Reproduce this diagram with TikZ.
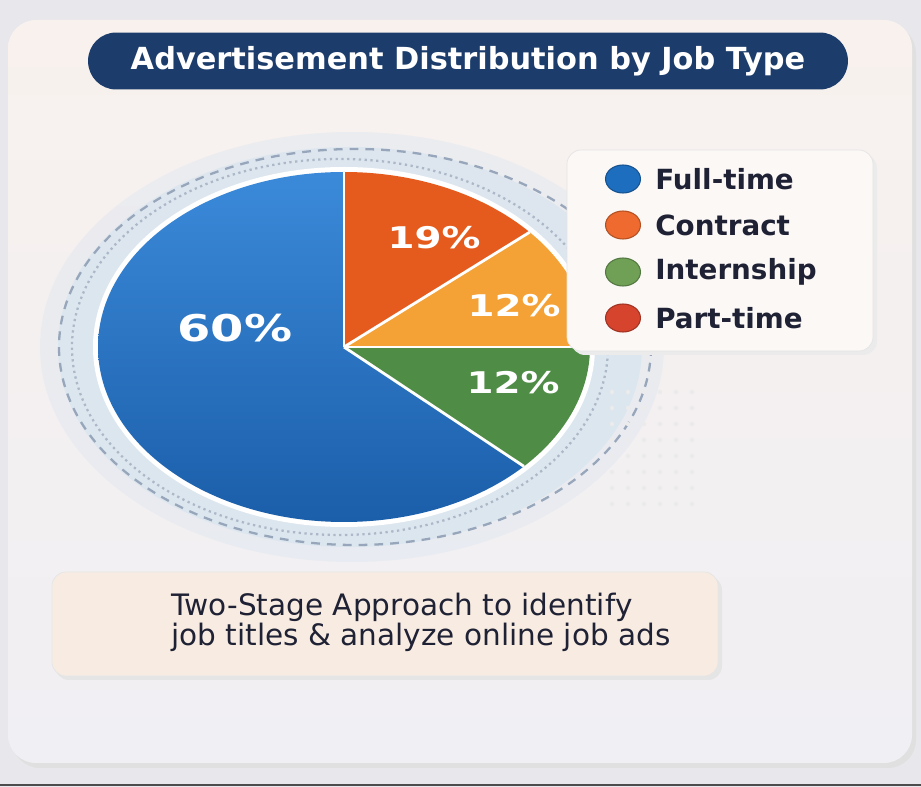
\documentclass[tikz,border=0pt]{standalone}
\usepackage{fontspec}
\setmainfont{DejaVu Sans}
\usetikzlibrary{shapes.geometric}

\definecolor{pagebg}{HTML}{E8E7EB}
\definecolor{cardtop}{HTML}{F8F1EE}
\definecolor{cardbot}{HTML}{F0EFF3}
\definecolor{navy}{HTML}{1C3D6B}
\definecolor{inkdark}{HTML}{1F2134}
\definecolor{fullblue}{HTML}{2574C4}
\definecolor{fullbluelt}{HTML}{3B8ADA}
\definecolor{fullbluedk}{HTML}{1B5EA9}
\definecolor{contractred}{HTML}{E55B1D}
\definecolor{internyellow}{HTML}{F4A236}
\definecolor{interngreen}{HTML}{4F8C45}
\definecolor{ringblue}{HTML}{D2E2EF}
\definecolor{dashgray}{HTML}{97A6BA}
\definecolor{keyblue}{HTML}{1E6EBF}
\definecolor{keyorange}{HTML}{EE6A2E}
\definecolor{keygreen}{HTML}{6FA055}
\definecolor{keyred}{HTML}{D6442E}
\definecolor{notefill}{HTML}{F8ECE2}

\newcommand{\widepct}[1]{\scalebox{1.3}[1]{#1}}

\begin{document}
\begin{tikzpicture}
        [x=0.02cm, y=-0.02cm,
        pct/.style={text=white, font=\bfseries\fontsize{17}{20}\selectfont},
        bigpct/.style={text=white, font=\bfseries\fontsize{21}{24}\selectfont},
        swatch/.style={ellipse, draw=#1!75!black, fill=#1, line width=0.6pt,
                minimum width=0.7cm, minimum height=0.56cm, inner sep=0pt},
        legendtext/.style={anchor=west, text=inkdark, inner sep=0pt,
                font=\bfseries\fontsize{15.8}{18}\selectfont},
        notetext/.style={text=inkdark, font=\fontsize{16.8}{19}\selectfont},
        separator/.style={white, line width=1.6pt}]

        \useasboundingbox (0,0) rectangle (921,787);
        \fill[pagebg] (0,0) rectangle (921,787);

        % card with soft shadow
        \fill[black!12, rounded corners=16pt] (12,25) rectangle (916,768);
        \shade[top color=cardtop, bottom color=cardbot, rounded corners=16pt]
                (8,20) rectangle (912,763);
        \draw[black!70, line width=1.4pt] (0,785) -- (921,785);

        % title
        \node[fill=navy, rounded corners=16pt, minimum width=15.2cm, minimum height=1.14cm,
                text=white, font=\bfseries\fontsize{17.3}{20}\selectfont]
                (title) at (468,61) {Advertisement Distribution by Job Type};

        % glow and dashed rings behind the pie
        \fill[ringblue, opacity=0.3] (352,347) ellipse [x radius=312, y radius=215];
        \fill[ringblue, opacity=0.55] (350,347) ellipse [x radius=292, y radius=200];
        \draw[dashgray, dashed, line width=1.3pt, dash pattern=on 5pt off 4pt]
                (355,347) ellipse [x radius=296, y radius=198];
        \draw[dashgray!80, dotted, line width=1.3pt]
                (340,347) ellipse [x radius=268, y radius=188];

        % halftone dots
        \foreach \i in {0,...,5}
          \foreach \j in {0,...,7}
            \fill[black!8] (612+\i*16,392+\j*16) circle (2.2);

        % pie slices
        \begin{scope}[shift={(344,347)}, x=0.02cm, y=0.02cm]
          \fill[white] (0,0) ellipse [x radius=251, y radius=180];
          \shade[top color=fullbluelt, bottom color=fullbluedk]
                (0,0) -- (90:246 and 175)
                arc[start angle=90, end angle=317, x radius=246, y radius=175] -- cycle;
          \fill[interngreen] (0,0) -- (-43:246 and 175)
                arc[start angle=-43, end angle=0, x radius=246, y radius=175] -- cycle;
          \fill[internyellow] (0,0) -- (0:246 and 175)
                arc[start angle=0, end angle=41, x radius=246, y radius=175] -- cycle;
          \fill[contractred] (0,0) -- (41:246 and 175)
                arc[start angle=41, end angle=90, x radius=246, y radius=175] -- cycle;
          \draw[separator] (0,0) -- (90:246 and 175);
          \draw[separator] (0,0) -- (41:246 and 175);
          \draw[separator] (0,0) -- (0:246 and 175);
          \draw[separator] (0,0) -- (-43:246 and 175);
        \end{scope}

        % slice labels
        \node[bigpct] (pfull) at (235,328) {\widepct{60\%}};
        \node[pct] (pcontract) at (434,238) {\widepct{19\%}};
        \node[pct] (pintern) at (514,306) {\widepct{12\%}};
        \node[pct] (ppart) at (513,383) {\widepct{12\%}};

        % legend
        \fill[black!8, rounded corners=8pt] (571,154) rectangle (877,355);
        \draw[black!10, fill=white!50!cardtop, rounded corners=8pt] (567,150) rectangle (873,351);
        \node[swatch=keyblue] (kfull) at (623,179) {};
        \node[swatch=keyorange] (kcontract) at (623,225) {};
        \node[swatch=keygreen] (kintern) at (623,272) {};
        \node[swatch=keyred] (kpart) at (623,318) {};
        \node[legendtext] (tfull) at (655,179) {Full-time};
        \node[legendtext] (tcontract) at (655,225) {Contract};
        \node[legendtext] (tintern) at (655,272) {Internship};
        \node[legendtext] (tpart) at (655,318) {Part-time};

        % note box
        \fill[black!10, rounded corners=8pt] (55,576) rectangle (722,680);
        \draw[black!10, fill=notefill, rounded corners=8pt] (52,572) rectangle (718,676);
        \node[notetext] (note1) at (402,607) {Two-Stage Approach to identify};
        \node[notetext] (note2) at (421,637) {job titles \& analyze online job ads};

    \end{tikzpicture}
\end{document}
